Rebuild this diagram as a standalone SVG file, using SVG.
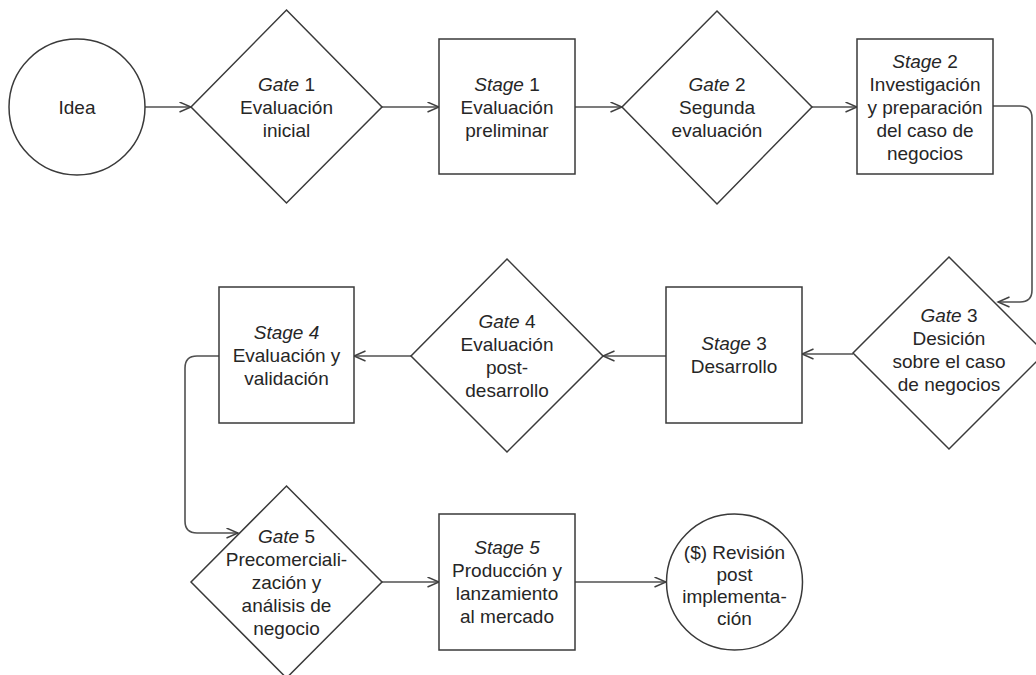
<svg xmlns="http://www.w3.org/2000/svg" width="1036" height="675" viewBox="0 0 1036 675">
<defs>
<marker id="arr" markerUnits="userSpaceOnUse" markerWidth="14" markerHeight="12" refX="12" refY="5.5" orient="auto">
<path d="M0.5,0.5 L12,5.5 L0.5,10.5" fill="none" stroke="#404040" stroke-width="1.4"/>
</marker>
<style>
.shape{fill:#fff;stroke:#3a3a3a;stroke-width:1.5}
.conn{fill:none;stroke:#505050;stroke-width:1.6;marker-end:url(#arr)}
text{font-family:"Liberation Sans",Arial,sans-serif;font-size:19px;fill:#262626;text-anchor:middle}
.i{font-style:italic}
</style>
</defs>
<rect width="1036" height="675" fill="#fff"/>
<g id="connectors">
<path class="conn" d="M145,107 H191"/>
<path class="conn" d="M382,107 H439"/>
<path class="conn" d="M575,107 H622"/>
<path class="conn" d="M812,107 H857"/>
<path class="conn" d="M993,106 H1020 Q1032,106 1032,118 V290 Q1032,302 1020,302 H998"/>
<path class="conn" d="M853,354 H802"/>
<path class="conn" d="M666,356 H603"/>
<path class="conn" d="M411,356 H354"/>
<path class="conn" d="M219,356 H197 Q185,356 185,368 V521 Q185,533 197,533 H238"/>
<path class="conn" d="M382,582 H439"/>
<path class="conn" d="M575,582 H666"/>
</g>
<g id="idea">
<circle class="shape" cx="77" cy="107" r="68"/>
<text x="77" y="114">Idea</text>
</g>
<g id="gate1">
<polygon class="shape" points="286.5,10 382,107 286.5,203 191,107"/>
<text x="286.5" y="91"><tspan class="i">Gate</tspan> 1</text>
<text x="286.5" y="114">Evaluación</text>
<text x="286.5" y="137">inicial</text>
</g>
<g id="stage1">
<rect class="shape" x="439" y="39" width="136" height="135"/>
<text x="507" y="91"><tspan class="i">Stage</tspan> 1</text>
<text x="507" y="114">Evaluación</text>
<text x="507" y="137">preliminar</text>
</g>
<g id="gate2">
<polygon class="shape" points="717,11 812,107 717,204 622,107"/>
<text x="717" y="91"><tspan class="i">Gate</tspan> 2</text>
<text x="717" y="114">Segunda</text>
<text x="717" y="137">evaluación</text>
</g>
<g id="stage2">
<rect class="shape" x="857" y="39" width="136" height="135"/>
<text x="925" y="68"><tspan class="i">Stage</tspan> 2</text>
<text x="925" y="91">Investigación</text>
<text x="925" y="114">y preparación</text>
<text x="925" y="137">del caso de</text>
<text x="925" y="160">negocios</text>
</g>
<g id="gate3">
<polygon class="shape" points="949,257 1045,353 949,449 853,353"/>
<text x="949" y="322"><tspan class="i">Gate</tspan> 3</text>
<text x="949" y="345">Desición</text>
<text x="949" y="368">sobre el caso</text>
<text x="949" y="391">de negocios</text>
</g>
<g id="stage3">
<rect class="shape" x="666" y="287" width="136" height="136"/>
<text x="734" y="350"><tspan class="i">Stage</tspan> 3</text>
<text x="734" y="373">Desarrollo</text>
</g>
<g id="gate4">
<polygon class="shape" points="507,259 603,356 507,452 411,356"/>
<text x="507" y="328"><tspan class="i">Gate</tspan> 4</text>
<text x="507" y="351">Evaluación</text>
<text x="507" y="374">post-</text>
<text x="507" y="397">desarrollo</text>
</g>
<g id="stage4">
<rect class="shape" x="219" y="287" width="135" height="136"/>
<text x="286.5" y="339" class="i">Stage 4</text>
<text x="286.5" y="362">Evaluación y</text>
<text x="286.5" y="385">validación</text>
</g>
<g id="gate5">
<polygon class="shape" points="286.5,486 382,582 286.5,678 191,582"/>
<text x="286.5" y="543"><tspan class="i">Gate</tspan> 5</text>
<text x="286.5" y="566">Precomerciali-</text>
<text x="286.5" y="589">zación y</text>
<text x="286.5" y="612">análisis de</text>
<text x="286.5" y="635">negocio</text>
</g>
<g id="stage5">
<rect class="shape" x="439" y="514" width="136" height="136"/>
<text x="507" y="554" class="i">Stage 5</text>
<text x="507" y="577">Producción y</text>
<text x="507" y="600">lanzamiento</text>
<text x="507" y="623">al mercado</text>
</g>
<g id="revision">
<circle class="shape" cx="734.5" cy="582" r="68"/>
<text x="734.5" y="559">($) Revisión</text>
<text x="734.5" y="581">post</text>
<text x="734.5" y="603">implementa-</text>
<text x="734.5" y="625">ción</text>
</g>
</svg>
